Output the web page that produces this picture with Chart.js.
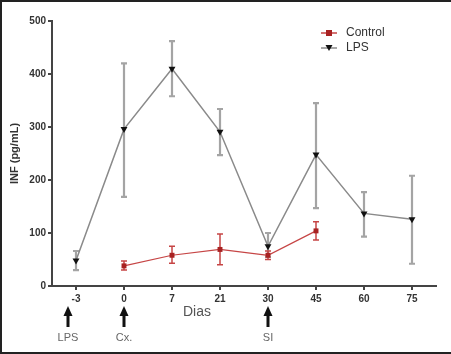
<!DOCTYPE html>
<html>
<head>
<meta charset="utf-8">
<script src="https://cdn.jsdelivr.net/npm/chart.js@4"></script>
<style>
    body { margin: 0; background: #fff; }
    #wrap { position: relative; width: 451px; height: 354px; }
    #frame {
        position: absolute; left: 0; top: 0; width: 451px; height: 350px;
        border-top: 2px solid #222; border-left: 2px solid #222; border-bottom: 2px solid #222;
        box-sizing: content-box; pointer-events: none;
    }
</style>
</head>
<body>
<div id="wrap">
    <canvas id="grafico" width="451" height="354"></canvas>
    <div id="frame"></div>
</div>
<script>
const days = ['-3', '0', '7', '21', '30', '45', '60', '75'];
const yTicks = [0, 100, 200, 300, 400, 500];

const lpsMean  = [48, 296, 410, 291, 75, 248, 137, 126];
const lpsUpper = [66, 420, 462, 334, 100, 345, 177, 208];
const lpsLower = [30, 168, 358, 247, 55, 147, 93, 42];

const ctrlMean  = [null, 38, 58, 69, 58, 104, null, null];
const ctrlUpper = [null, 47, 75, 98, 66, 121, null, null];
const ctrlLower = [null, 30, 43, 40, 50, 87, null, null];

const eventDays   = ['-3', '0', '30'];
const eventLabels = ['LPS', 'Cx.', 'SI'];

const FONT = '"Liberation Sans", Arial, sans-serif';

// barras de error + flechas + leyenda
const extras = {
    id: 'extras',
    beforeDatasetsDraw(chart) {
        const ctx = chart.ctx;
        const x = chart.scales.x, y = chart.scales.y;
        const sets = [
            { up: lpsUpper, lo: lpsLower, color: '#a4a4a4', w: 2.2 },
            { up: ctrlUpper, lo: ctrlLower, color: '#c64545', w: 1.5 }
        ];
        ctx.save();
        sets.forEach(s => {
            ctx.strokeStyle = s.color;
            ctx.lineWidth = s.w;
            days.forEach((d, i) => {
                if (s.up[i] == null) return;
                const px = x.getPixelForValue(i);
                const top = y.getPixelForValue(s.up[i]);
                const bot = y.getPixelForValue(s.lo[i]);
                ctx.beginPath();
                ctx.moveTo(px, top); ctx.lineTo(px, bot);
                ctx.moveTo(px - 3, top); ctx.lineTo(px + 3, top);
                ctx.moveTo(px - 3, bot); ctx.lineTo(px + 3, bot);
                ctx.stroke();
            });
        });
        ctx.restore();
    },
    afterDraw(chart) {
        const ctx = chart.ctx;
        const x = chart.scales.x;
        ctx.save();
        // flechas de eventos
        const nudge = [-8, 0, 0];
        eventDays.forEach((d, i) => {
            const px = x.getPixelForValue(days.indexOf(d)) + nudge[i];
            ctx.fillStyle = '#111';
            ctx.beginPath();
            ctx.moveTo(px, 306);
            ctx.lineTo(px - 4.5, 316);
            ctx.lineTo(px + 4.5, 316);
            ctx.closePath();
            ctx.fill();
            ctx.fillRect(px - 1.5, 315, 3, 12);
            ctx.fillStyle = '#666';
            ctx.font = '11px ' + FONT;
            ctx.textAlign = 'center';
            ctx.textBaseline = 'middle';
            ctx.fillText(eventLabels[i], px, 338);
        });
        // titulo eje x
        ctx.fillStyle = '#555';
        ctx.font = '14px ' + FONT;
        ctx.textAlign = 'center';
        ctx.textBaseline = 'middle';
        ctx.fillText('Dias', 197, 312);
        // leyenda
        const items = [
            { label: 'Control', color: '#c64545', mark: '#a82222', style: 'rect' },
            { label: 'LPS', color: '#8a8a8a', mark: '#111', style: 'tri' }
        ];
        items.forEach((it, i) => {
            const ly = 33 + i * 15;
            ctx.strokeStyle = it.color;
            ctx.lineWidth = 1.5;
            ctx.beginPath();
            ctx.moveTo(321, ly); ctx.lineTo(337, ly);
            ctx.stroke();
            ctx.fillStyle = it.mark;
            if (it.style === 'rect') {
                ctx.fillRect(326, ly - 3, 6, 6);
            } else {
                ctx.beginPath();
                ctx.moveTo(325.5, ly - 3);
                ctx.lineTo(332.5, ly - 3);
                ctx.lineTo(329, ly + 3);
                ctx.closePath();
                ctx.fill();
            }
            ctx.fillStyle = '#333';
            ctx.font = '12px ' + FONT;
            ctx.textAlign = 'left';
            ctx.fillText(it.label, 346, ly);
        });
        ctx.restore();
    }
};

const ctx = document.getElementById('grafico').getContext('2d');
new Chart(ctx, {
    type: 'line',
    data: {
        labels: days,
        datasets: [
            {
                label: 'LPS',
                data: lpsMean,
                borderColor: '#8a8a8a',
                borderWidth: 1.5,
                pointStyle: 'triangle',
                pointRotation: 180,
                pointRadius: 4,
                pointBackgroundColor: '#111',
                pointBorderColor: '#111',
                pointBorderWidth: 0,
                tension: 0,
                order: 2
            },
            {
                label: 'Control',
                data: ctrlMean,
                borderColor: '#c64545',
                borderWidth: 1.2,
                pointStyle: 'rect',
                pointRadius: 3.5,
                pointBackgroundColor: '#a82222',
                pointBorderColor: '#a82222',
                pointBorderWidth: 0,
                tension: 0,
                order: 1
            }
        ]
    },
    options: {
        responsive: false,
        animation: false,
        layout: { padding: { top: 21, right: 15, left: 0, bottom: 0 } },
        plugins: {
            legend: { display: false },
            tooltip: { enabled: false }
        },
        scales: {
            x: {
                offset: true,
                grid: { offset: false, drawOnChartArea: false, drawTicks: true, tickLength: 4, color: '#444', lineWidth: 2 },
                border: { color: '#444', width: 2 },
                ticks: { color: '#333', padding: 3, font: { family: FONT, size: 10, weight: 'bold' }, maxRotation: 0 },
                afterFit(scale) { scale.height = 68; }
            },
            y: {
                min: 0,
                max: 500,
                afterBuildTicks(scale) { scale.ticks = yTicks.map(v => ({ value: v })); },
                grid: { drawOnChartArea: false, drawTicks: true, tickLength: 4, color: '#444', lineWidth: 2 },
                border: { color: '#444', width: 2 },
                ticks: { color: '#333', padding: 2, font: { family: FONT, size: 10, weight: 'bold' } },
                title: {
                    display: true,
                    text: 'INF (pg/mL)',
                    color: '#333',
                    font: { family: FONT, size: 11, weight: 'bold' },
                    padding: { top: 8, bottom: 0 }
                },
                afterFit(scale) { scale.width = 52; }
            }
        }
    },
    plugins: [extras]
});
</script>
</body>
</html>
